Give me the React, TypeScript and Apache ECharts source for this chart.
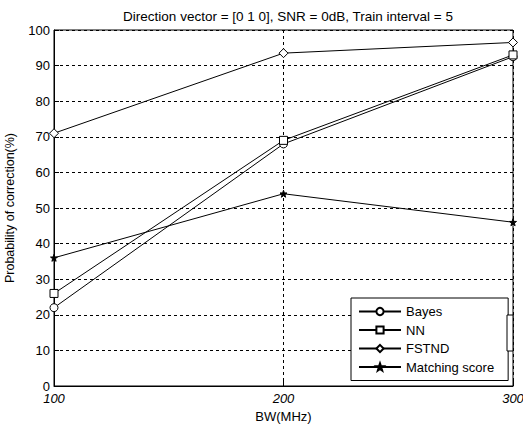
import React, { useEffect, useRef } from "react";
import * as echarts from "echarts";

const bandwidths = [100, 200, 300];
const bayes = [22, 68, 92.5];
const nn = [26, 69, 93];
const fstnd = [71, 93.5, 96.5];
const matching = [36, 54, 46];
const seriesNames = ["Bayes", "NN", "FSTND", "Matching score"];

const FONT = "'Liberation Sans', Arial, sans-serif";
const STAR =
  "path://M0,-5L1.2,-1.6L4.8,-1.5L1.9,0.6L2.9,4L0,2L-2.9,4L-1.9,0.6L-4.8,-1.5L-1.2,-1.6Z";

export default function App() {
  const ref = useRef<HTMLDivElement>(null);
  useEffect(() => {
    document.body.style.margin = "0";
    if (!ref.current) return;
    const chart = echarts.init(ref.current, undefined, { renderer: "svg" });
    const pair = (ys: number[]) => bandwidths.map((x, i) => [x, ys[i]]);
    const mk = (name: string, ys: number[], symbol: string, size: number, filled: boolean) => ({
      name,
      type: "line",
      data: pair(ys),
      symbol,
      symbolSize: size,
      showAllSymbol: true,
      lineStyle: { color: "#000", width: 1 },
      itemStyle: { color: filled ? "#000" : "#fff", borderColor: "#000", borderWidth: 1 },
      emphasis: { disabled: true },
    });
    chart.setOption({
      animation: false,
      backgroundColor: "#fff",
      textStyle: { fontFamily: FONT, color: "#000" },
      title: {
        text: "Direction vector = [0 1 0], SNR = 0dB, Train interval = 5",
        left: 283,
        textAlign: "center",
        top: 4,
        textStyle: { fontFamily: FONT, fontSize: 13.5, fontWeight: "normal", color: "#000" },
      },
      grid: {
        left: 54,
        right: 10,
        top: 30,
        bottom: 38,
        outerBoundsMode: "none",
        containLabel: false,
        show: true,
        borderColor: "#000",
        borderWidth: 1,
        backgroundColor: "transparent",
      },
      xAxis: {
        type: "value",
        min: 100,
        max: 300,
        interval: 100,
        name: "BW(MHz)",
        nameLocation: "middle",
        nameGap: 23,
        nameTextStyle: { fontFamily: FONT, fontSize: 13, color: "#000" },
        axisLine: { lineStyle: { color: "#000", width: 1 } },
        axisTick: { inside: true, length: 5, lineStyle: { color: "#000" } },
        axisLabel: {
          fontFamily: FONT,
          fontSize: 13,
          fontStyle: "italic",
          color: "#000",
          margin: 6,
        },
        splitLine: { show: true, lineStyle: { color: "#000", type: [3, 3], width: 1 } },
      },
      yAxis: {
        type: "value",
        min: 0,
        max: 100,
        interval: 10,
        name: "Probability of correction(%)",
        nameLocation: "middle",
        nameGap: 38,
        nameTextStyle: { fontFamily: FONT, fontSize: 12.5, color: "#000" },
        axisLine: { show: true, lineStyle: { color: "#000", width: 1 } },
        axisTick: { show: true, inside: true, length: 5, lineStyle: { color: "#000" } },
        axisLabel: { fontFamily: FONT, fontSize: 13, color: "#000", margin: 4 },
        splitLine: { show: true, lineStyle: { color: "#000", type: [3, 3], width: 1 } },
      },
      legend: {
        data: seriesNames,
        orient: "vertical",
        left: 351,
        top: 298,
        padding: [7, 14, 7, 7],
        itemGap: 5.5,
        itemWidth: 42,
        itemHeight: 9,
        backgroundColor: "#fff",
        borderColor: "#000",
        borderWidth: 1,
        borderRadius: 0,
        textStyle: { fontFamily: FONT, fontSize: 13, color: "#000" },
        selectedMode: false,
      },
      graphic: [
        {
          type: "rect",
          shape: { x: 507, y: 315, width: 6, height: 36 },
          style: { fill: "#fff", stroke: "#000", lineWidth: 1 },
          z: 100,
        },
      ],
      series: [
        mk(seriesNames[0], bayes, "circle", 8, false),
        mk(seriesNames[1], nn, "rect", 8, false),
        mk(seriesNames[2], fstnd, "diamond", 9, false),
        mk(seriesNames[3], matching, STAR, 7, true),
      ],
    });
    return () => chart.dispose();
  }, []);
  return <div ref={ref} style={{ width: 523, height: 424 }} />;
}
